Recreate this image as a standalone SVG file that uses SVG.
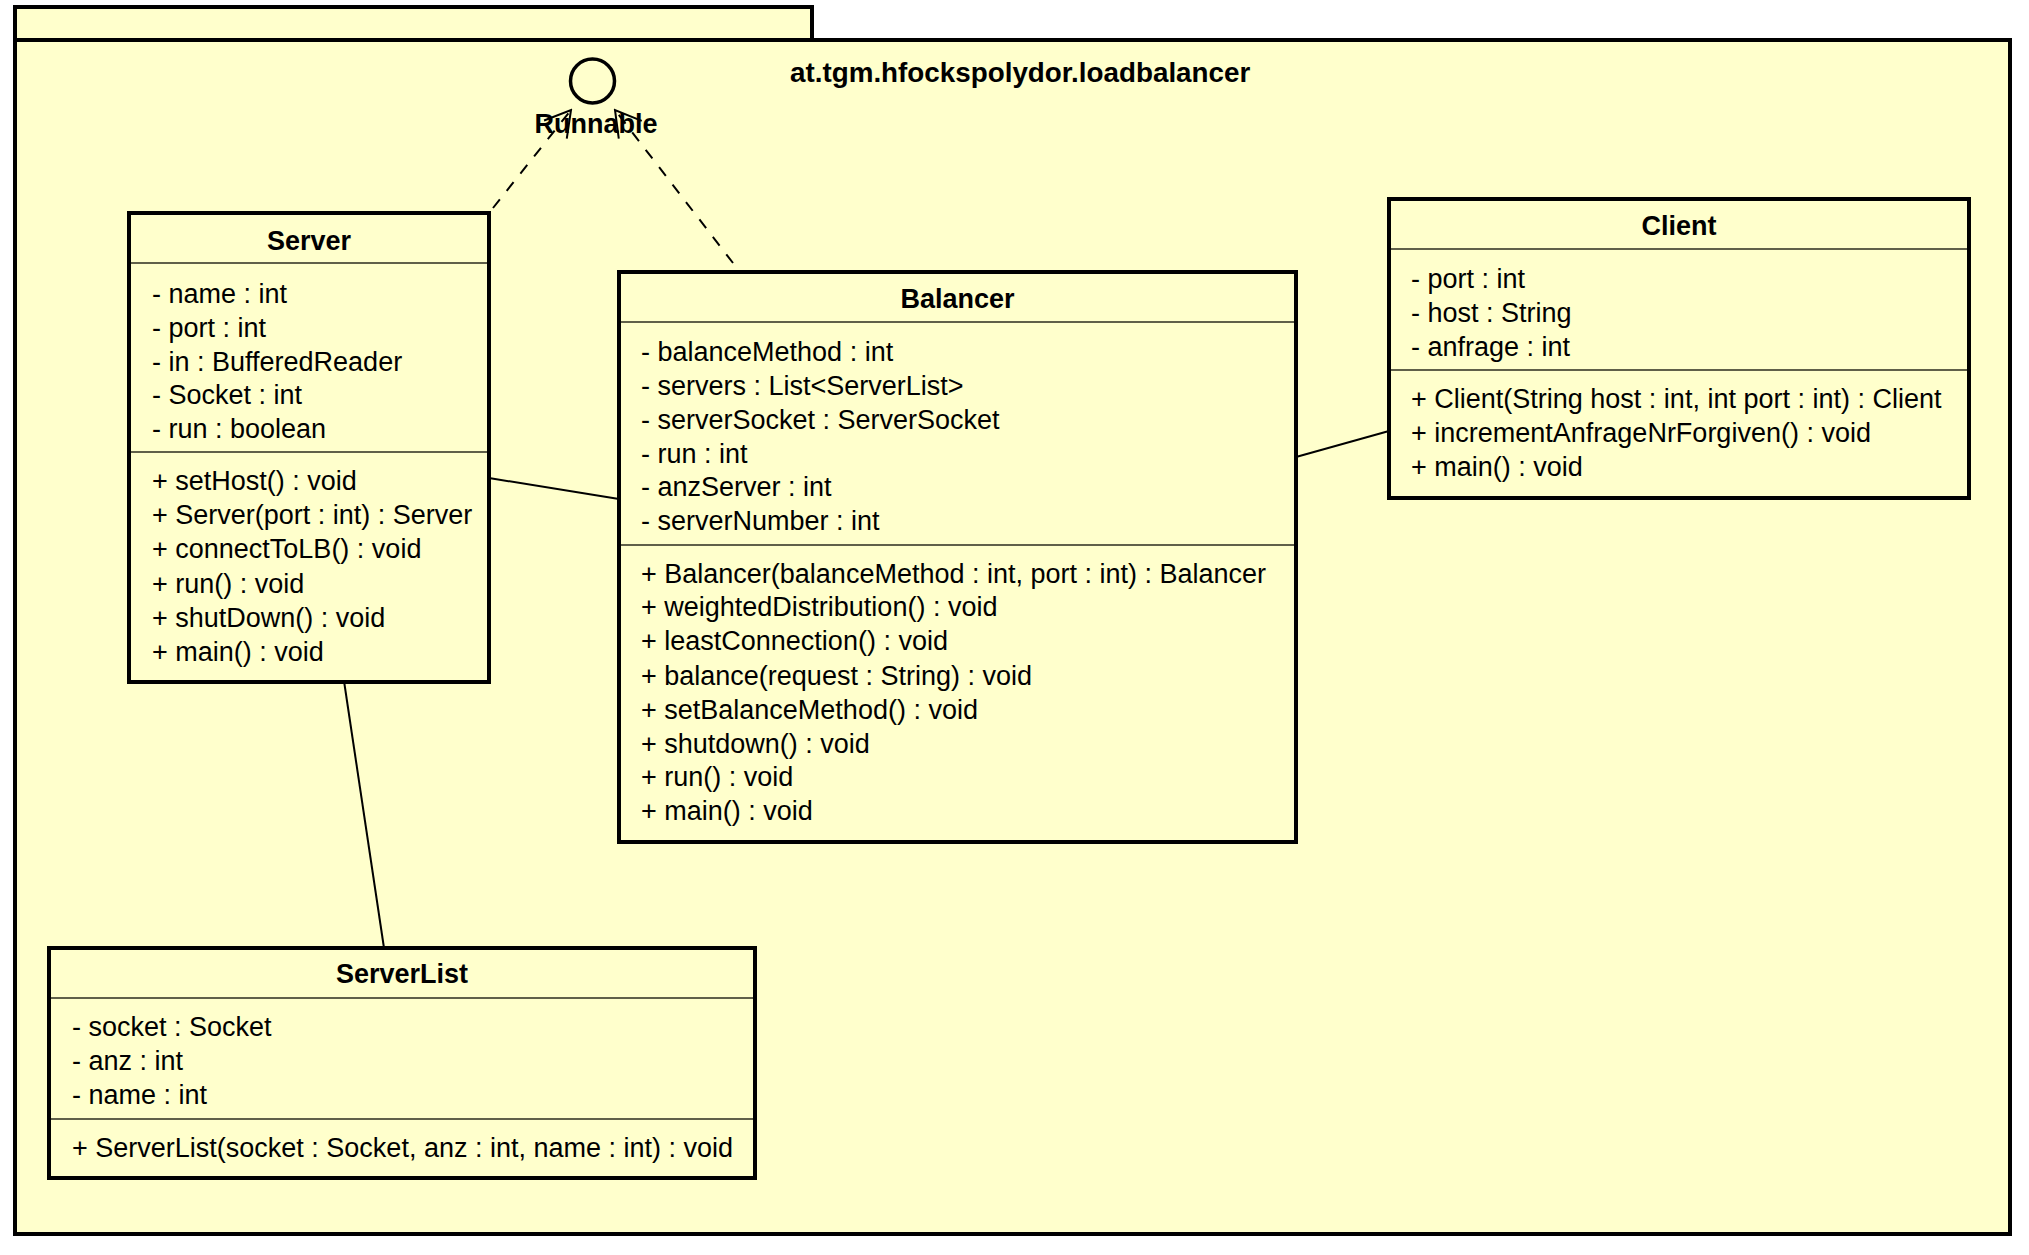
<svg xmlns="http://www.w3.org/2000/svg" width="2029" height="1255" viewBox="0 0 2029 1255">
  <style>
    .frame { fill: #FFFFCC; stroke: #000; stroke-width: 4; }
    .box { fill: #FFFFCC; stroke: #000; stroke-width: 4; }
    .div { stroke: #2b2b1e; stroke-width: 1.6; fill: none; }
    .txt { font-family: "Liberation Sans", Arial, sans-serif; font-size: 27px; fill: #000; }
    .title { font-family: "Liberation Sans", Arial, sans-serif; font-size: 27px; font-weight: bold; fill: #000; text-anchor: middle; }
    .pkg { font-family: "Liberation Sans", Arial, sans-serif; font-size: 27.8px; font-weight: bold; fill: #000; }
    .assoc { stroke: #000; stroke-width: 2; fill: none; }
    .real { stroke: #000; stroke-width: 2; fill: none; stroke-dasharray: 11 11; }
    .head { stroke: #000; stroke-width: 2; fill: none; }
  </style>
  <defs>
    <marker id="open-arrow" viewBox="-30 -16 32 32" refX="0" refY="0" markerWidth="32" markerHeight="32" markerUnits="userSpaceOnUse" orient="auto">
      <path d="M -25 -14.5 L 0 0 L -25 14.5" class="head"/>
    </marker>
  </defs>

  <rect x="0" y="0" width="2029" height="1255" fill="#FFFFFF"/>

  <!-- package frame -->
  <g id="package">
    <rect class="frame" x="15" y="7" width="797" height="33"/>
    <rect class="frame" x="15" y="40" width="1995" height="1194"/>
    <text class="pkg" x="790" y="82">at.tgm.hfockspolydor.loadbalancer</text>
  </g>

  <!-- connectors -->
  <g id="connectors">
    <line class="assoc" x1="489" y1="478" x2="619" y2="499"/>
    <line class="assoc" x1="1296" y1="457" x2="1389" y2="431"/>
    <line class="assoc" x1="344" y1="681" x2="384" y2="948"/>
    <line class="real" x1="493" y1="208" x2="571" y2="110" marker-end="url(#open-arrow)"/>
    <line class="real" x1="733" y1="263" x2="615" y2="110" marker-end="url(#open-arrow)"/>
  </g>

  <!-- interface lollipop -->
  <g id="runnable">
    <circle cx="592.5" cy="81" r="22" fill="none" stroke="#000" stroke-width="3.5"/>
    <text class="title" x="596" y="133">Runnable</text>
  </g>

  <g id="server">
    <rect class="box" x="129" y="213" width="360" height="469"/>
    <line class="div" x1="131" y1="263" x2="487" y2="263"/>
    <line class="div" x1="131" y1="452" x2="487" y2="452"/>
    <text class="title" x="309" y="250">Server</text>
    <text class="txt" x="152" y="303">- name : int</text>
    <text class="txt" x="152" y="337">- port : int</text>
    <text class="txt" x="152" y="371">- in : BufferedReader</text>
    <text class="txt" x="152" y="404">- Socket : int</text>
    <text class="txt" x="152" y="438">- run : boolean</text>
    <text class="txt" x="152" y="490">+ setHost() : void</text>
    <text class="txt" x="152" y="524">+ Server(port : int) : Server</text>
    <text class="txt" x="152" y="558">+ connectToLB() : void</text>
    <text class="txt" x="152" y="593">+ run() : void</text>
    <text class="txt" x="152" y="627">+ shutDown() : void</text>
    <text class="txt" x="152" y="661">+ main() : void</text>
  </g>

  <g id="balancer">
    <rect class="box" x="619" y="272" width="677" height="570"/>
    <line class="div" x1="621" y1="322" x2="1294" y2="322"/>
    <line class="div" x1="621" y1="545" x2="1294" y2="545"/>
    <text class="title" x="957.5" y="308">Balancer</text>
    <text class="txt" x="641" y="361">- balanceMethod : int</text>
    <text class="txt" x="641" y="395">- servers : List&lt;ServerList&gt;</text>
    <text class="txt" x="641" y="429">- serverSocket : ServerSocket</text>
    <text class="txt" x="641" y="463">- run : int</text>
    <text class="txt" x="641" y="496">- anzServer : int</text>
    <text class="txt" x="641" y="530">- serverNumber : int</text>
    <text class="txt" x="641" y="583">+ Balancer(balanceMethod : int, port : int) : Balancer</text>
    <text class="txt" x="641" y="616">+ weightedDistribution() : void</text>
    <text class="txt" x="641" y="650">+ leastConnection() : void</text>
    <text class="txt" x="641" y="685">+ balance(request : String) : void</text>
    <text class="txt" x="641" y="719">+ setBalanceMethod() : void</text>
    <text class="txt" x="641" y="753">+ shutdown() : void</text>
    <text class="txt" x="641" y="786">+ run() : void</text>
    <text class="txt" x="641" y="820">+ main() : void</text>
  </g>

  <g id="client">
    <rect class="box" x="1389" y="199" width="580" height="299"/>
    <line class="div" x1="1391" y1="249" x2="1967" y2="249"/>
    <line class="div" x1="1391" y1="370" x2="1967" y2="370"/>
    <text class="title" x="1679" y="235">Client</text>
    <text class="txt" x="1411" y="288">- port : int</text>
    <text class="txt" x="1411" y="322">- host : String</text>
    <text class="txt" x="1411" y="356">- anfrage : int</text>
    <text class="txt" x="1411" y="408">+ Client(String host : int, int port : int) : Client</text>
    <text class="txt" x="1411" y="442">+ incrementAnfrageNrForgiven() : void</text>
    <text class="txt" x="1411" y="476">+ main() : void</text>
  </g>

  <g id="serverlist">
    <rect class="box" x="49" y="948" width="706" height="230"/>
    <line class="div" x1="51" y1="998" x2="753" y2="998"/>
    <line class="div" x1="51" y1="1119" x2="753" y2="1119"/>
    <text class="title" x="402" y="983">ServerList</text>
    <text class="txt" x="72" y="1036">- socket : Socket</text>
    <text class="txt" x="72" y="1070">- anz : int</text>
    <text class="txt" x="72" y="1104">- name : int</text>
    <text class="txt" x="72" y="1157">+ ServerList(socket : Socket, anz : int, name : int) : void</text>
  </g>
</svg>
